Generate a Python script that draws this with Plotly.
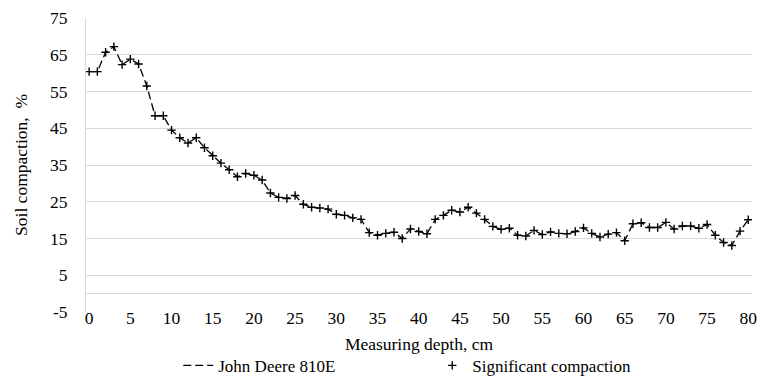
import plotly.graph_objects as go

depth = list(range(0, 81))
compaction = [
    60.4, 60.4, 65.7, 67.2, 62.3, 63.8, 62.5, 56.5, 48.4, 48.4,
    44.5, 42.4, 41.0, 42.4, 39.7, 37.5, 35.5, 33.7, 31.8, 32.7,
    32.2, 30.9, 27.4, 26.2, 25.9, 26.7, 24.3, 23.5, 23.3, 23.0,
    21.6, 21.3, 20.6, 20.2, 16.6, 15.9, 16.4, 16.7, 15.0, 17.6,
    16.9, 16.3, 20.2, 21.3, 22.7, 22.2, 23.5, 21.9, 20.2, 18.3,
    17.5, 17.8, 15.9, 15.7, 17.2, 16.1, 16.8, 16.4, 16.3, 16.9,
    17.9, 16.4, 15.4, 16.2, 16.6, 14.4, 19.0, 19.3, 18.0, 18.0,
    19.4, 17.6, 18.4, 18.4, 17.8, 18.8, 15.9, 13.9, 13.1, 17.0,
    20.1,
]
x_ticks = list(range(0, 81, 5))
y_ticks = list(range(-5, 76, 10))

FONT = "Liberation Serif, Times New Roman, serif"
GRID = "#d9d9d9"
f = dict(family=FONT, size=17.5, color="black")
fl = dict(family=FONT, size=17, color="black")

fig = go.Figure()
fig.add_trace(go.Scatter(
    x=depth, y=compaction, mode="lines", name="John Deere 810E",
    line=dict(color="black", width=1.3, dash="8px,4px"),
))
fig.add_trace(go.Scatter(
    x=depth, y=compaction, mode="markers", name="Significant compaction",
    marker=dict(symbol="cross-thin", size=6, line=dict(color="black", width=1.4), color="black"),
))

fig.update_layout(
    width=760, height=376,
    margin=dict(l=86, r=8, t=18, b=64, autoexpand=False),
    paper_bgcolor="white", plot_bgcolor="white",
    font=f,
    showlegend=True,
    legend=dict(
        orientation="h", xanchor="left", x=0.1385, yanchor="middle", y=-0.183,
        font=fl, entrywidth=209, bgcolor="rgba(0,0,0,0)",
    ),
    xaxis=dict(
        range=[-0.38, 80.45], tickvals=x_ticks, ticktext=[str(v) for v in x_ticks],
        tickfont=f,
        showgrid=False, zeroline=False, showline=False, ticks="",
        ticklabelstandoff=-7,
        title=dict(text="Measuring depth, cm", font=f, standoff=11),
        automargin=False,
    ),
    yaxis=dict(
        range=[-5, 75], tickvals=y_ticks, ticktext=[str(v) for v in y_ticks],
        tickfont=f,
        showgrid=True, gridcolor=GRID, gridwidth=1,
        zeroline=True, zerolinecolor=GRID, zerolinewidth=1,
        showline=True, linecolor=GRID, linewidth=1, ticks="",
        ticklabelstandoff=14,
        title=dict(text="Soil compaction,  %", font=f, standoff=17),
        automargin=False,
    ),
)

fig.write_html("out.html")
